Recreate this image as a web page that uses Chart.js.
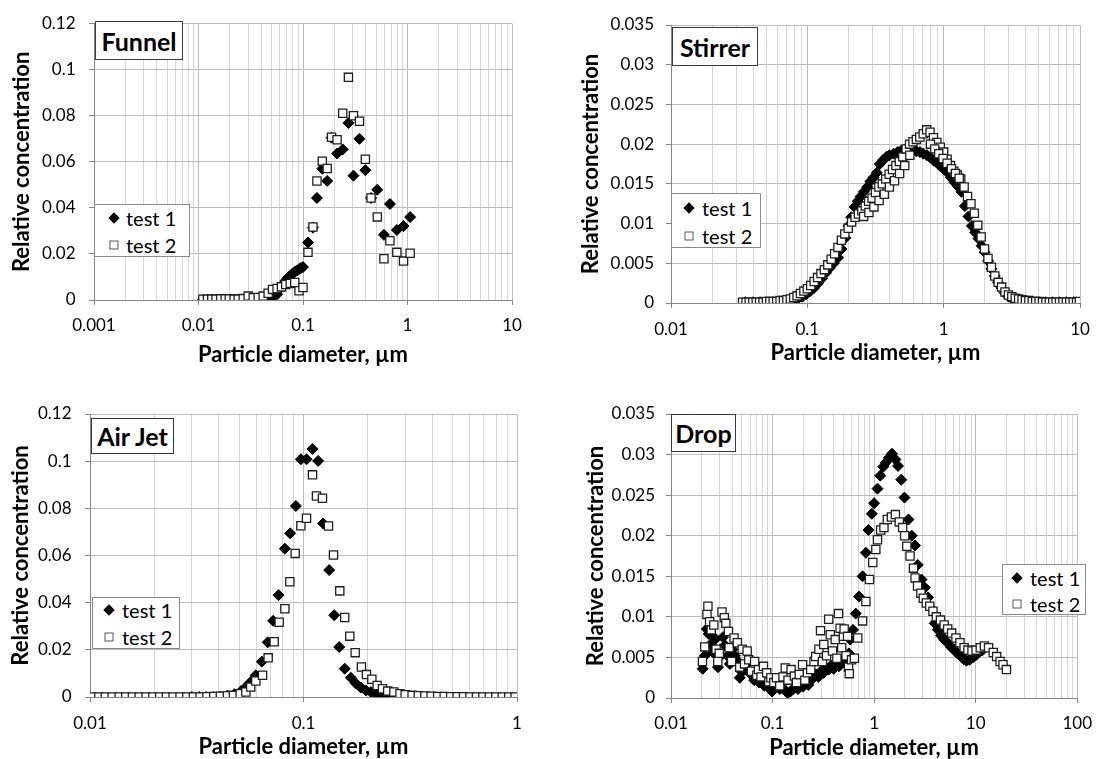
<!DOCTYPE html>
<html>
<head>
<meta charset="utf-8">
<script src="https://cdn.jsdelivr.net/npm/chart.js@4.4.1/dist/chart.umd.min.js"></script>
<style>
  body { margin: 0; background: #fff; width: 1102px; height: 759px; position: relative; overflow: hidden; font-family: Lato, "Liberation Sans", sans-serif; }
  canvas { position: absolute; }
  .tag { position: absolute; box-sizing: border-box; border: 1px solid #3a3a3a; background: #fff; font-weight: bold; font-size: 25px; display: flex; align-items: center; justify-content: center; color: #000; }
  .leg { position: absolute; box-sizing: border-box; border: 1px solid #8a8a8a; background: #fff; font-size: 20px; color: #000; }
  .row { position: absolute; left: 0; right: 0; height: 0; }
  .dia { position: absolute; width: 8px; height: 8px; background: #000; transform: translate(-50%, -50%) rotate(45deg); }
  .sq { position: absolute; width: 7px; height: 7px; border: 1px solid #555; background: #fff; transform: translate(-50%, -50%); }
  .lt { position: absolute; transform: translateY(-50%); line-height: 1; white-space: nowrap; }
</style>
</head>
<body>
<canvas id="funnel" width="550" height="380" style="left:0;top:0"></canvas>
<canvas id="stirrer" width="552" height="380" style="left:550px;top:0"></canvas>
<canvas id="airjet" width="550" height="379" style="left:0;top:380px"></canvas>
<canvas id="drop" width="552" height="379" style="left:550px;top:380px"></canvas>

<div class="tag" style="left:95px;top:21px;width:88px;height:39px">Funnel</div>
<div class="tag" style="left:672px;top:27px;width:86px;height:39px">Stirrer</div>
<div class="tag" style="left:91px;top:418px;width:83px;height:36px">Air Jet</div>
<div class="tag" style="left:671px;top:414px;width:65px;height:38px">Drop</div>

<div class="leg" style="left:94px;top:204px;width:96px;height:53px">
  <div class="row" style="top:13px"><span class="dia" style="left:19px"></span><span class="lt" style="left:31px">test 1</span></div>
  <div class="row" style="top:40px"><span class="sq" style="left:19px"></span><span class="lt" style="left:31px">test 2</span></div>
</div>
<div class="leg" style="left:671px;top:193px;width:90px;height:55px">
  <div class="row" style="top:14px"><span class="dia" style="left:17px"></span><span class="lt" style="left:30px">test 1</span></div>
  <div class="row" style="top:42px"><span class="sq" style="left:17px"></span><span class="lt" style="left:30px">test 2</span></div>
</div>
<div class="leg" style="left:92px;top:597px;width:88px;height:52px">
  <div class="row" style="top:12px"><span class="dia" style="left:16px"></span><span class="lt" style="left:29px">test 1</span></div>
  <div class="row" style="top:39px"><span class="sq" style="left:16px"></span><span class="lt" style="left:29px">test 2</span></div>
</div>
<div class="leg" style="left:1002px;top:564px;width:84px;height:51px">
  <div class="row" style="top:13px"><span class="dia" style="left:14px"></span><span class="lt" style="left:27px">test 1</span></div>
  <div class="row" style="top:39px"><span class="sq" style="left:14px"></span><span class="lt" style="left:27px">test 2</span></div>
</div>

<script>
// Funnel
const funnelX1 = [0.0110,0.0122,0.0134,0.0147,0.0163,0.0180,0.0197,0.0219,0.0240,0.0268,0.0299,0.0334,0.0373,0.0416,0.0464,0.0511,0.0565,0.0622,0.0655,0.0684,0.0718,0.0755,0.0787,0.0834,0.0874,0.0916,0.0955,0.1000,0.1116,0.1245,0.1360,0.1530,0.1705,0.1875,0.2120,0.2400,0.2720,0.3040,0.3470,0.3950,0.4480,0.5140,0.5950,0.6790,0.7910,0.9160,1.0600];
const funnelY1 = [0,0,0,0,0,0,0,0,0,0,0,0,0,0.0001,0.0003,0.0012,0.0025,0.0055,0.0072,0.0085,0.0097,0.0105,0.0113,0.0122,0.0128,0.0134,0.0139,0.0143,0.0250,0.0314,0.0443,0.0570,0.0517,0.0705,0.0636,0.0654,0.0769,0.0540,0.0700,0.0564,0.0443,0.0479,0.0283,0.0417,0.0304,0.0321,0.0360];
const funnelX2 = [0.0110,0.0122,0.0134,0.0147,0.0163,0.0180,0.0197,0.0219,0.0240,0.0268,0.0299,0.0334,0.0373,0.0416,0.0464,0.0511,0.0565,0.0622,0.0684,0.0755,0.0834,0.0916,0.1000,0.1116,0.1245,0.1360,0.1530,0.1705,0.1875,0.2120,0.2400,0.2720,0.3040,0.3470,0.3950,0.4480,0.5140,0.5950,0.6790,0.7910,0.9160,1.0600];
const funnelY2 = [0.0003,0.0003,0.0004,0.0004,0.0005,0.0005,0.0005,0.0004,0.0004,0.0006,0.0017,0.0010,0.0011,0.0017,0.0029,0.0046,0.0050,0.0057,0.0067,0.0072,0.0076,0.0040,0.0054,0.0207,0.0317,0.0517,0.0603,0.0571,0.0707,0.0696,0.0811,0.0967,0.0800,0.0776,0.0611,0.0443,0.0361,0.0179,0.0257,0.0207,0.0169,0.0203];

// Stirrer
const stirX1 = [0.035,0.040,0.045,0.050,0.056,0.062,0.068,0.074,0.080,0.086,0.092,0.098,0.105,0.112,0.120,0.128,0.137,0.146,0.156,0.168,0.178,0.190,0.200,0.210,0.222,0.234,0.246,0.260,0.275,0.290,0.306,0.323,0.340,0.360,0.380,0.400,0.430,0.460,0.490,0.520,0.555,0.590,0.630,0.670,0.710,0.755,0.800,0.850,0.900,0.950,1.010,1.070,1.130,1.200,1.270,1.350,1.430,1.520,1.610,1.700,1.800,1.900,2.000,2.120,2.240,2.370,2.500,2.650,2.800,3.000,3.200,3.400,3.700,4.000,4.500,5.000,5.600,6.300,7.100,8.000,9.000];
const stirY1 = [0.0001,0.0001,0.0001,0.0001,0.0001,0.0002,0.0002,0.0003,0.0004,0.0006,0.0008,0.0011,0.0015,0.0019,0.0025,0.0031,0.0038,0.0044,0.0050,0.0057,0.0068,0.0082,0.0097,0.0108,0.0121,0.0128,0.0134,0.0140,0.0146,0.0153,0.0158,0.0164,0.0175,0.0180,0.0184,0.0186,0.0188,0.0190,0.0192,0.0193,0.0193,0.0192,0.0191,0.0190,0.0188,0.0186,0.0183,0.0179,0.0176,0.0172,0.0168,0.0164,0.0158,0.0152,0.0147,0.0140,0.0122,0.0109,0.0097,0.0089,0.0081,0.0072,0.0064,0.0053,0.0043,0.0034,0.0026,0.0019,0.0013,0.0008,0.0005,0.0003,0.0002,0.0001,0.0001,0.0001,0.0001,0.0001,0.0001,0.0001,0.0001];
const stirX2 = [0.0335,0.0355,0.0375,0.0398,0.0422,0.0447,0.0473,0.0501,0.0531,0.0562,0.0596,0.0631,0.0668,0.0708,
  0.0750,0.0794,0.0841,0.0891,0.0944,0.1000,0.1059,0.1122,0.1189,0.1259,
  0.1334,0.1413,0.1496,0.1585,0.1679,0.1778,0.1884,0.1995,0.2113,0.2239,
  0.2371,0.2512,0.2661,0.2818,0.2985,0.3162,0.3350,0.3548,0.3758,0.3981,
  0.4217,0.4467,0.4732,0.5012,0.5309,0.5623,0.5957,0.6310,0.6683,0.7080,
  0.7499,0.7943,0.8414,0.8913,0.9441,1.000,1.059,1.122,1.189,1.259,
  1.334,1.413,1.496,1.585,1.679,1.778,1.884,1.995,2.114,2.239,
  2.371,2.512,2.661,2.818,2.985,3.162,3.350,3.548,3.758,3.981,
  4.217,4.467,4.732,5.012,5.309,5.623,5.957,6.310,6.683,7.080,
  7.499,7.943,8.414,8.913,9.441,9.900,
  0.259,0.283,0.308,0.336,0.367,0.400,0.436,0.475,0.518,0.565,
  0.80,0.86,0.92,0.99,1.06,1.14,1.22,1.30];
const stirY2 = [0.0001,0.0001,0.0001,0.0001,0.0001,0.0001,0.0001,0.0002,0.0002,0.0002,0.0002,0.0003,0.0003,0.0004,
  0.0005,0.0007,0.0009,0.0012,0.0015,0.0018,0.0022,0.0027,0.0032,0.0037,
  0.0042,0.0048,0.0055,0.0062,0.0070,0.0079,0.0087,0.0094,0.0102,0.0108,
  0.0112,0.0116,0.0122,0.0128,0.0132,0.0139,0.0146,0.0150,0.0156,0.0162,
  0.0168,0.0173,0.0178,0.0184,0.0194,0.0200,0.0203,0.0206,0.0209,0.0213,
  0.0218,0.0215,0.0208,0.0202,0.0196,0.0190,0.0181,0.0173,0.0166,0.0161,
  0.0156,0.0146,0.0134,0.0125,0.0113,0.0098,0.0083,0.0068,0.0056,0.0045,
  0.0034,0.0026,0.0020,0.0014,0.0010,0.0008,0.0006,0.0005,0.0004,0.0003,
  0.0003,0.0002,0.0002,0.0002,0.0001,0.0001,0.0001,0.0001,0.0001,0.0001,
  0.0001,0.0001,0.0001,0.0001,0.0001,0.0002,
  0.0109,0.0114,0.0121,0.0129,0.0137,0.0146,0.0154,0.0163,0.0173,0.0186,
  0.0200,0.0194,0.0188,0.0182,0.0176,0.0169,0.0163,0.0157];

// Air Jet
const airX1 = [0.0300,0.0325,0.0350,0.0378,0.0408,0.0440,0.0475,0.0510,0.0537,0.0566,0.0598,0.0638,0.0680,0.0721,0.0764,0.0818,0.0866,0.0921,0.0972,0.1033,0.1102,0.1171,0.1236,0.1319,0.1392,0.1470,0.1560,0.1666,0.1759,0.1856,0.1960,0.2070,0.2180,0.2300,0.2430,0.2600,0.2780,0.3000];
const airY1 = [0,0,0,0,0.0002,0.0006,0.0012,0.0025,0.0042,0.0064,0.0092,0.0150,0.0232,0.0323,0.0432,0.0629,0.0694,0.0810,0.1008,0.1008,0.1052,0.1001,0.0736,0.0538,0.0347,0.0212,0.0120,0.0082,0.0057,0.0040,0.0028,0.0021,0.0014,0.0010,0.0007,0.0004,0.0002,0.0001];
const airX2 = [0.0102,0.0110,0.0118,0.0127,0.0137,0.0147,0.0158,0.0170,0.0183,0.0197,0.0212,0.0228,0.0245,0.0264,0.0284,0.0305,0.0328,0.0353,0.0380,0.0408,0.0440,0.0470,0.0505,0.0537,0.0566,0.0598,0.0643,0.0683,0.0729,0.0769,0.0818,0.0863,0.0914,0.0972,0.1033,0.1102,0.1150,0.1227,0.1309,0.1382,0.1479,0.1560,0.1648,0.1746,0.1868,0.1972,0.2090,0.2213,0.2344,0.2480,0.2650,0.2830,0.2994,0.3226,0.3450,0.3700,0.3960,0.4250,0.4560,0.4890,0.5240,0.5620,0.6020,0.6460,0.6920,0.7420,0.7960,0.8530,0.9150,0.9800];
const airY2 = [0,0,0,0,0,0,0,0,0,0,0,0,0,0,0,0,0,0.0001,0.0002,0.0003,0.0005,0.0007,0.0014,0.0021,0.0042,0.0068,0.0092,0.0166,0.0234,0.0317,0.0374,0.0489,0.0609,0.0726,0.0758,0.0942,0.0852,0.0843,0.0725,0.0602,0.0450,0.0337,0.0258,0.0188,0.0127,0.0095,0.0075,0.0049,0.0035,0.0025,0.0021,0.0014,0.0010,0.0007,0.0005,0.0004,0.0003,0.0002,0.0002,0.0001,0.0001,0.0001,0,0,0,0,0,0,0,0];

// Drop
const dropX1 = [0.0205,0.0215,0.0225,0.0235,0.0245,0.0260,0.0275,0.0290,0.0310,0.0325,
  0.0340,0.0360,0.0380,0.0400,0.0425,0.0450,0.0475,0.0500,0.0530,0.0560,
  0.0590,0.0625,0.0660,0.0700,0.0740,0.0780,0.0830,0.0880,0.0930,0.0990,
  0.1050,0.1110,0.1180,0.1250,0.1330,0.1410,0.1500,0.1590,0.1680,0.1780,
  0.1890,0.2000,0.2120,0.2250,0.2380,0.2520,0.2670,0.2830,0.3000,0.3180,
  0.3370,0.3570,0.3780,0.4000,0.4250,0.4500,0.4750,0.5050,0.5350,0.5650,
  0.5800,0.6200,0.6600,0.7100,0.7700,0.8300,0.8800,0.9500,1.0000,1.0800,
  1.1500,1.2300,1.3000,1.4000,1.5000,1.6200,1.7200,1.8500,1.9900,2.1800,
  2.3500,2.5300,2.6900,2.9300,3.1600,3.4000,3.6500,3.9500,4.2500,4.5700,
  4.9000,5.3000,5.7000,6.1000,6.6000,7.1000,7.6000,8.1000,8.7000,9.4000,
  10.100,10.900,11.700];
const dropY1 = [0.0036,0.0052,0.0085,0.0079,0.0066,0.0056,0.0073,0.0038,0.0052,0.0075,
  0.0065,0.0052,0.0042,0.0060,0.0052,0.0046,0.0025,0.0032,0.0041,0.0036,
  0.0031,0.0028,0.0022,0.0025,0.0019,0.0021,0.0015,0.0017,0.0012,0.0008,
  0.0012,0.0016,0.0011,0.0013,0.0009,0.0006,0.0008,0.0011,0.0013,0.0011,
  0.0016,0.0014,0.0018,0.0016,0.0022,0.0025,0.0029,0.0026,0.0033,0.0031,
  0.0037,0.0035,0.0040,0.0036,0.0043,0.0039,0.0046,0.0044,0.0050,0.0055,
  0.0072,0.0084,0.0104,0.0125,0.0150,0.0179,0.0207,0.0227,0.0240,0.0258,
  0.0274,0.0285,0.0290,0.0296,0.0301,0.0294,0.0286,0.0269,0.0247,0.0220,
  0.0200,0.0188,0.0164,0.0146,0.0136,0.0124,0.0110,0.0092,0.0084,0.0077,
  0.0072,0.0068,0.0063,0.0060,0.0055,0.0052,0.0048,0.0046,0.0047,0.0050,
  0.0053,0.0057,0.0059];
const dropX2 = [0.0204,0.0215,0.0226,0.0231,0.0240,0.0249,0.0264,0.0278,0.0289,0.0299,
  0.0318,0.0335,0.0347,0.0368,0.0374,0.0395,0.0418,0.0450,0.0475,0.0503,
  0.0530,0.0562,0.0583,0.0620,0.0666,0.0700,0.0727,0.0770,0.0813,0.0875,
  0.0920,0.0963,0.1030,0.1093,0.1177,0.1267,0.1334,0.1420,0.1523,0.1640,
  0.1720,0.1834,0.1975,0.2080,0.2206,0.2377,0.2561,0.2658,0.2862,0.2968,
  0.3100,0.3196,0.3400,0.3570,0.3704,0.3900,0.4140,0.4300,0.4460,0.4626,
  0.4800,0.4984,0.5070,0.5300,0.5480,0.5600,0.5700,0.6000,0.6400,0.6900,
  0.7700,0.8300,0.9000,0.9700,1.0400,1.0800,1.1600,1.2500,1.3500,1.4800,
  1.6200,1.7700,1.9100,2.0000,2.1000,2.2600,2.4400,2.5300,2.6800,2.8900,
  3.0500,3.2700,3.5300,3.8000,4.1000,4.5000,4.9000,5.3000,5.8000,6.4000,
  7.0000,7.7000,8.4000,9.2000,10.100,11.100,12.200,13.400,14.900,16.100,
  17.400,18.600,20.100];
const dropY2 = [0.0045,0.0063,0.0103,0.0113,0.0094,0.0084,0.0090,0.0060,0.0045,0.0055,
  0.0106,0.0099,0.0092,0.0082,0.0062,0.0045,0.0074,0.0068,0.0038,0.0060,
  0.0042,0.0058,0.0047,0.0033,0.0045,0.0028,0.0035,0.0026,0.0039,0.0031,
  0.0020,0.0025,0.0019,0.0025,0.0015,0.0026,0.0037,0.0022,0.0035,0.0027,
  0.0019,0.0029,0.0041,0.0022,0.0031,0.0035,0.0045,0.0051,0.0060,0.0083,
  0.0045,0.0066,0.0052,0.0097,0.0078,0.0058,0.0072,0.0049,0.0104,0.0086,
  0.0062,0.0076,0.0085,0.0052,0.0076,0.0038,0.0030,0.0047,0.0049,0.0074,
  0.0095,0.0119,0.0146,0.0167,0.0183,0.0195,0.0207,0.0210,0.0220,0.0223,
  0.0226,0.0217,0.0210,0.0200,0.0187,0.0175,0.0160,0.0148,0.0138,0.0129,
  0.0123,0.0117,0.0113,0.0107,0.0100,0.0096,0.0090,0.0085,0.0080,0.0074,
  0.0068,0.0062,0.0059,0.0058,0.0059,0.0062,0.0064,0.0062,0.0056,0.0051,
  0.0045,0.0041,0.0035];

const FONT = 'Lato, "Liberation Sans", sans-serif';

function pts(xs, ys) {
  return xs.map((x, i) => ({ x: x, y: ys[i] }));
}

function isDecade(v) {
  const l = Math.log10(v);
  return Math.abs(l - Math.round(l)) < 1e-6;
}

function makeChart(id, c) {
  new Chart(document.getElementById(id), {
    type: 'scatter',
    data: {
      datasets: [{
        label: 'test 1',
        data: pts(c.x1, c.y1),
        pointStyle: 'rectRot',
        pointRadius: 5.5,
        backgroundColor: '#000',
        borderColor: '#000',
        borderWidth: 1,
        order: 1
      }, {
        label: 'test 2',
        data: pts(c.x2, c.y2),
        pointStyle: 'rect',
        pointRadius: 5.8,
        backgroundColor: '#fff',
        borderColor: '#1e1e1e',
        borderWidth: 1.3,
        order: 0
      }]
    },
    options: {
      responsive: false,
      animation: false,
      events: [],
      layout: { padding: { left: 0, top: c.padTop, right: c.padRight, bottom: 0 } },
      plugins: { legend: { display: false }, tooltip: { enabled: false } },
      scales: {
        x: {
          type: 'logarithmic',
          min: c.xMin,
          max: c.xMax,
          afterBuildTicks: ax => {
            // keep 1..9 per decade, drop the 1.5 ticks
            ax.ticks = ax.ticks.filter(t => {
              const m = t.value / Math.pow(10, Math.floor(Math.log10(t.value) + 1e-9));
              return Math.abs(m - Math.round(m)) < 1e-6;
            });
          },
          afterFit: ax => { ax.height = c.xH; },
          ticks: {
            autoSkip: false, maxRotation: 0, minRotation: 0,
            padding: c.xPad, color: '#000',
            font: { family: FONT, size: 17 },
            callback: v => isDecade(v) ? String(Number(v.toPrecision(3))) : ''
          },
          grid: {
            color: ctx => (ctx.tick && isDecade(ctx.tick.value)) ? '#bcbcbc' : '#d6d6d6',
            tickLength: 5,
            tickColor: ctx => (ctx.tick && isDecade(ctx.tick.value)) ? '#878787' : 'rgba(0,0,0,0)'
          },
          border: { color: '#878787' },
          title: {
            display: true, text: 'Particle diameter, µm', color: '#000',
            font: { family: FONT, size: 22, weight: 'bold' },
            padding: { top: 0, bottom: c.xtPad }
          }
        },
        y: {
          min: 0,
          max: c.yMax,
          afterFit: ax => { ax.width = c.yW; },
          ticks: {
            stepSize: c.yStep, padding: c.yPad, color: '#000',
            font: { family: FONT, size: 17 },
            callback: v => String(Number(v.toFixed(4)))
          },
          grid: { color: '#bcbcbc', tickLength: 5, tickColor: '#878787' },
          border: { color: '#878787' },
          title: {
            display: true, text: 'Relative concentration', color: '#000',
            font: { family: FONT, size: 22, weight: 'bold' },
            padding: { top: c.ytPad, bottom: 0 }
          }
        }
      }
    }
  });
}

makeChart('funnel', { x1: funnelX1, y1: funnelY1, x2: funnelX2, y2: funnelY2,
  xMin: 0.001, xMax: 10, yMax: 0.12, yStep: 0.02,
  padTop: 21, padRight: 38, yW: 94, xH: 80, xPad: 10, yPad: 13.5, xtPad: 11.8, ytPad: 8.8 });

makeChart('stirrer', { x1: stirX1, y1: stirY1, x2: stirX2, y2: stirY2,
  xMin: 0.01, xMax: 10, yMax: 0.035, yStep: 0.005,
  padTop: 25, padRight: 22, yW: 121, xH: 77, xPad: 11.5, yPad: 12, xtPad: 13.8, ytPad: 28.2 });

makeChart('airjet', { x1: airX1, y1: airY1, x2: airX2, y2: airY2,
  xMin: 0.01, xMax: 1, yMax: 0.12, yStep: 0.02,
  padTop: 34, padRight: 33, yW: 90, xH: 62, xPad: 11.5, yPad: 13.5, xtPad: -0.9, ytPad: 7.8 });

makeChart('drop', { x1: dropX1, y1: dropY1, x2: dropX2, y2: dropY2,
  xMin: 0.01, xMax: 100, yMax: 0.035, yStep: 0.005,
  padTop: 34, padRight: 16, yW: 121, xH: 61, xPad: 10, yPad: 11, xtPad: -2.2, ytPad: 32.6 });
</script>
</body>
</html>
